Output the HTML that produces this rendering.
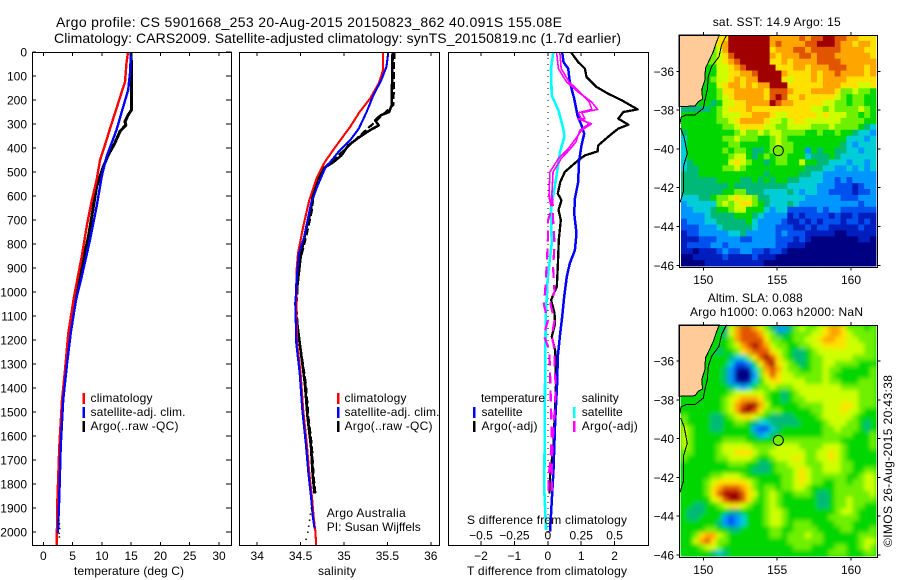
<!DOCTYPE html>
<html lang="en">
<head>
<meta charset="utf-8">
<title>Argo profile CS 5901668_253</title>
<style>
html,body{margin:0;padding:0;background:#fff;}
svg{display:block;}
text{font-family:"Liberation Sans",sans-serif;font-size:12px;fill:#000;}
.ttl{font-size:14px;}
.ln{fill:none;shape-rendering:crispEdges;stroke-linejoin:round;}
</style>
</head>
<body>
<svg id="fig" xmlns="http://www.w3.org/2000/svg" width="900" height="580" viewBox="0 0 900 580">
<defs>
<clipPath id="clipT"><rect x="32" y="52" width="200" height="493"/></clipPath>
<clipPath id="clipS"><rect x="239" y="52" width="200" height="493"/></clipPath>
<clipPath id="clipD"><rect x="448" y="52" width="200" height="493"/></clipPath>
<clipPath id="clipSla"><rect x="680" y="325" width="197" height="232"/></clipPath>
<filter id="slaBlur" x="-5%" y="-5%" width="110%" height="110%"><feGaussianBlur stdDeviation="2.2"/></filter>
</defs>
<rect x="0" y="0" width="900" height="580" fill="#fff"/>
<g id="panels"></g>
<g id="maps"></g>

<text class="ttl" x="56" y="27" textLength="506" lengthAdjust="spacing">Argo profile: CS 5901668_253 20-Aug-2015 20150823_862 40.091S 155.08E</text>
<text class="ttl" x="54" y="43" textLength="567" lengthAdjust="spacing">Climatology: CARS2009. Satellite-adjusted climatology: synTS_20150819.nc (1.7d earlier)</text>

<text x="74" y="575" textLength="110" lengthAdjust="spacing">temperature (deg C)</text>
<text x="318" y="575" textLength="38" lengthAdjust="spacing">salinity</text>
<text x="467" y="575" textLength="160" lengthAdjust="spacing">T difference from climatology</text>
<text x="467" y="524" textLength="160" lengthAdjust="spacing">S difference from climatology</text>

<rect x="82.5" y="393" width="2.5" height="11" fill="#f00"/>
<rect x="82.5" y="407" width="2.5" height="11" fill="#00f"/>
<rect x="82.5" y="421" width="2.5" height="11" fill="#000"/>
<text x="90.5" y="402" textLength="62">climatology</text>
<text x="90.5" y="416" textLength="95">satellite-adj. clim.</text>
<text x="90.5" y="430" textLength="88">Argo(..raw -QC)</text>

<rect x="337" y="393" width="2.5" height="11" fill="#f00"/>
<rect x="337" y="407" width="2.5" height="11" fill="#00f"/>
<rect x="337" y="421" width="2.5" height="11" fill="#000"/>
<text x="344.5" y="402" textLength="62">climatology</text>
<text x="344.5" y="416" textLength="95">satellite-adj. clim.</text>
<text x="344.5" y="430" textLength="88">Argo(..raw -QC)</text>

<text x="326.7" y="517" textLength="79">Argo Australia</text>
<text x="326.7" y="531" textLength="94">PI: Susan Wijffels</text>

<text x="481" y="402" textLength="64">temperature</text>
<text x="481.5" y="416" textLength="41">satellite</text>
<text x="481.5" y="430" textLength="56">Argo(-adj)</text>
<text x="581.7" y="402" textLength="37">salinity</text>
<text x="581.7" y="416" textLength="41">satellite</text>
<text x="581.7" y="430" textLength="56">Argo(-adj)</text>
<rect x="473" y="407" width="2.5" height="11" fill="#00f"/>
<rect x="473" y="421" width="2.5" height="11" fill="#000"/>
<rect x="573" y="407" width="2.5" height="11" fill="#0ff"/>
<rect x="573" y="421" width="2.5" height="11" fill="#f0f"/>

<text x="712.7" y="26" textLength="128">sat. SST: 14.9 Argo: 15</text>
<text x="707.7" y="302" textLength="95">Altim. SLA: 0.088</text>
<text x="690" y="316" textLength="173">Argo h1000: 0.063 h2000: NaN</text>
<text transform="translate(892,547) rotate(-90)" x="0" y="0" textLength="172">©IMOS 26-Aug-2015 20:43:38</text>
</svg>

<script>
// ---- Axis tick data ----
const depthTicks = [0,100,200,300,400,500,600,700,800,900,1000,1100,1200,1300,1400,1500,1600,1700,1800,1900,2000];
const tempTicks = [0,5,10,15,20,25,30];
const salTicks = [34,34.5,35,35.5,36];
const salTickLabels = ['34','34.5','35','35.5','36'];
const dtTicks = [-2,-1,0,1,2];
const dtTickLabels = ['\u22122','\u22121','0','1','2'];
const dsTicks = [-0.5,-0.25,0,0.25,0.5];
const dsTickLabels = ['\u22120.5','\u22120.25','0','0.25','0.5'];
const lonTicks = [150,155,160];
const latTicks = [-36,-38,-40,-42,-44,-46];

// ---- Temperature profiles ----
const climTempDepth = [0,46,125,158,235,318,366,450,533,617,714,853,1020,1172,1325,1450,1644,1867,2054];
const climTempVal = [14.46,14.2,13.95,13.5,12.5,11.4,10.8,9.7,9.1,8.3,7.5,6.55,5.24,4.27,3.7,3.2,2.73,2.4,2.28];
const satTempDepth = [0,87,158,227,325,436,519,644,783,936,1033,1172,1311,1450,1644,1853,2005];
const satTempVal = [14.97,14.8,14.5,13.66,12.5,10.8,9.97,9.1,7.97,6.55,5.58,4.67,4.0,3.4,2.97,2.73,2.5];
const argoTempDepth = [0,120,240,262,290,304,331,380,429,478,561,644,769,894,1020,1172,1325,1450,1644,1783];
const argoTempVal = [15.0,15.05,15.1,14.5,13.95,14.1,13.1,12.2,11.1,10.25,9.1,8.55,7.7,6.55,5.4,4.47,3.9,3.3,2.85,2.6];
const rawTempDotDepth = [1950,1965,1985,2005,2020];
const rawTempDotVal = [2.6,2.7,2.75,2.65,2.7];

// ---- Salinity profiles ----
const climSalDepth = [0,75,131,194,250,312,396,458,521,617,728,839,922,1061,1214,1339,1492,1631,1756,1853,1936,1999,2054];
const climSalVal = [35.45,35.45,35.40,35.30,35.18,35.07,34.90,34.78,34.69,34.60,34.53,34.47,34.45,34.45,34.46,34.50,34.53,34.57,34.60,34.63,34.65,34.67,34.68];
const satSalDepth = [0,61,117,179,250,319,368,410,486,562,632,771,839,964,1061,1214,1339,1492,1631,1756,1853,1936,1985];
const satSalVal = [35.51,35.49,35.43,35.34,35.26,35.17,35.07,34.95,34.78,34.69,34.62,34.54,34.48,34.45,34.44,34.45,34.49,34.52,34.56,34.59,34.62,34.64,34.66];
const argoSalDepth = [0,222,250,264,285,306,326,354,389,431,458,486,535,590,660,743,854,951,1047,1100,1242,1381,1519,1644,1769,1839];
const argoSalVal = [35.56,35.55,35.52,35.42,35.36,35.40,35.30,35.18,35.05,34.97,34.88,34.76,34.69,34.64,34.62,34.56,34.50,34.47,34.44,34.45,34.50,34.55,34.58,34.62,34.64,34.66];
const rawSalDepth = [0,220,400,480,560,660,760,860,960,1060,1160,1260,1381,1519,1644,1769,1839];
const rawSalVal = [35.58,35.57,35.03,34.78,34.66,34.63,34.57,34.50,34.47,34.45,34.47,34.51,34.56,34.59,34.63,34.65,34.67];
const rawSalDotDepth = [1900,1925,1950,1975,2000,2030];
const rawSalDotVal = [34.62,34.61,34.60,34.59,34.58,34.56];

// ---- Differences from climatology ----
const dtArgoDepth = [0,42,69,104,146,174,201,239,250,278,303,319,347,389,414,431,451,500,542,590,618,658,700,783,894,978,1033,1089,1131,1186,1242,1373,1639,1764,1840];
const dtArgoVal = [0.69,0.91,1.11,1.16,1.46,1.81,2.21,2.69,2.26,2.11,2.41,2.11,1.86,1.51,1.49,1.11,0.91,0.51,0.37,0.3,0.41,0.32,0.39,0.33,0.3,0.27,0.1,0.2,0.22,0.12,0.22,0.25,0.17,0.07,0.05];
const dtSatDepth = [0,42,69,125,194,264,306,340,389,458,542,611,672,756,826,881,936,1019,1103,1172,1269,1373,1547,1740,1921,1997];
const dtSatVal = [0.43,0.47,0.61,0.66,0.79,0.89,1.01,1.09,1.01,0.93,0.91,0.81,0.79,0.86,0.81,0.66,0.57,0.49,0.43,0.37,0.3,0.28,0.22,0.17,0.1,0.07];
const dsSatDepth = [0,69,181,243,319,354,417,514,597,653,799,936,1103,1408,1825,1992];
const dsSatVal = [0.041,0.024,0.029,0.079,0.116,0.124,0.091,0.066,0.041,0.024,0.029,0,-0.016,-0.021,-0.026,-0.013];
const dsArgoDepth = [0,69,125,167,208,239,253,278,278,299,326,375,403,444,500,597,653,700,800,900,1000,1050,1120,1180,1240,1300,1400,1600,1700,1770,1830];
const dsArgoVal = [0.066,0.079,0.141,0.228,0.328,0.373,0.254,0.278,0.224,0.328,0.254,0.191,0.153,0.079,0.016,0.009,0.029,0.002,0,-0.01,-0.02,-0.03,0,-0.03,0.01,0.015,0.02,0.03,0.02,0.005,0.005];
const dsRawDepth = [0,69,125,167,208,239,253,278,299,326,375,403,444,500,597,653,700,800,900,1000,1050,1120,1180,1240,1300,1400,1500,1600,1700,1830];
const dsRawVal = [0.09,0.1,0.16,0.24,0.31,0.33,0.23,0.25,0.31,0.24,0.21,0.17,0.1,0.04,0.03,0.04,0.04,0.05,0.04,0.05,0.02,0.05,0.03,0.05,0.05,0.06,0.05,0.04,0.03,0.03];
const dashBelowDepth = 650;

// ---- Maps: colour-class values per grid cell, north row first ----
const sstGrid = [
[7,7,7,7,7,7,9,9,12,12,12,12,12,12,12,10,10,10,10,10,11,10,11,11,12,12,11,11,10,10,9,9,9],
[7,7,7,7,7,7,9,10,12,12,12,12,12,12,12,10,11,10,10,10,10,11,11,12,12,12,11,10,10,9,10,10,9],
[7,7,7,7,7,7,8,10,12,12,12,12,12,12,12,9,10,10,10,11,11,10,11,11,11,11,11,10,10,10,10,9,9],
[7,7,7,7,7,7,8,9,11,12,12,12,12,12,12,10,9,10,10,10,11,11,10,11,11,11,10,10,10,10,10,10,9],
[7,7,7,7,7,7,8,9,10,11,12,12,12,12,12,9,9,10,9,10,10,10,10,11,11,11,11,10,10,10,10,10,10],
[6,6,6,6,6,6,8,8,9,10,11,12,12,12,12,12,9,9,9,10,10,9,10,10,10,11,11,11,10,10,10,9,10],
[6,6,6,6,6,6,8,8,9,9,10,10,11,12,12,12,12,10,9,9,9,9,10,9,10,10,11,10,10,10,10,9,10],
[6,6,6,6,6,7,8,8,9,10,9,10,10,12,12,12,12,9,8,9,9,9,10,9,10,10,10,10,9,9,9,9,9],
[6,6,6,6,6,6,8,9,10,10,9,10,9,10,10,12,12,12,9,9,9,9,9,9,10,10,10,9,9,9,8,8,9],
[6,6,6,6,6,6,7,9,9,10,10,10,10,10,9,11,11,11,10,9,9,9,10,10,10,10,9,7,7,8,7,7,6],
[6,6,6,6,6,6,7,8,9,10,10,10,10,10,9,11,12,11,9,9,10,9,9,9,9,9,8,7,6,7,7,6,6],
[6,6,6,6,6,5,6,8,8,9,9,10,10,10,10,12,11,10,10,9,9,9,9,9,8,8,7,7,6,7,7,6,6],
[5,5,5,5,5,6,7,8,9,9,9,10,9,9,9,9,9,9,9,9,9,9,8,8,7,8,7,7,7,7,8,7,6],
[6,6,6,6,6,6,7,8,8,8,9,9,10,10,10,9,8,8,9,9,9,9,9,8,9,8,8,8,7,7,6,7,6],
[6,6,6,6,6,6,7,7,8,9,10,10,10,10,9,8,8,7,8,9,9,8,8,8,8,8,8,7,7,7,7,6,6],
[6,6,6,6,6,6,6,7,7,8,9,9,9,9,8,8,7,7,8,8,8,8,7,7,7,8,7,7,7,7,6,5,4],
[5,6,6,6,6,6,6,6,6,7,8,7,7,8,7,8,8,7,7,7,7,6,6,7,6,6,7,6,6,5,4,4,3],
[4,6,6,6,6,6,6,7,7,8,7,7,7,6,6,7,8,7,6,6,6,6,6,6,6,6,6,6,4,4,4,3,4],
[4,6,6,6,6,6,6,6,7,7,6,6,6,6,6,7,8,7,7,6,6,6,6,6,6,6,6,5,4,3,4,4,4],
[4,6,6,6,6,6,6,7,6,7,7,6,5,5,6,7,7,7,7,6,6,3,6,5,6,6,5,5,4,4,3,4,4],
[4,6,6,6,6,6,6,6,7,8,8,6,5,6,7,6,7,7,6,6,6,4,5,5,5,6,5,4,4,4,4,4,4],
[4,5,6,6,6,6,6,6,8,9,8,7,6,6,5,6,7,7,6,6,8,6,6,5,5,4,4,4,3,4,4,3,4],
[4,5,5,6,6,6,6,7,7,8,7,6,6,6,6,6,6,6,6,6,6,5,5,5,4,4,3,3,4,3,4,3,4],
[5,5,5,6,6,6,6,6,6,6,6,6,6,6,5,6,6,6,6,6,5,5,4,4,3,3,3,3,3,3,3,3,3],
[5,5,5,5,5,5,6,6,6,6,5,5,6,5,6,5,6,6,5,5,4,4,4,4,3,3,2,3,2,3,3,3,3],
[5,5,5,5,5,5,5,5,6,5,5,5,5,5,5,5,5,5,4,4,4,4,4,3,3,3,2,2,2,1,2,3,3],
[5,5,5,5,5,5,5,6,6,7,7,5,5,5,4,4,4,4,5,4,3,4,4,3,3,2,2,2,2,1,2,2,3],
[4,4,4,5,5,6,7,7,8,9,8,8,7,5,5,4,4,4,4,4,4,3,3,3,3,3,3,2,2,2,3,3,3],
[3,4,4,4,4,4,7,8,7,8,9,9,7,6,5,4,4,4,5,4,3,3,3,3,3,3,3,3,3,3,2,3,3],
[3,3,4,4,4,5,6,6,7,8,8,6,6,6,4,3,4,4,2,2,2,2,2,3,2,3,3,2,2,2,2,2,2],
[3,3,3,3,4,5,5,5,5,6,6,6,5,4,3,3,3,3,1,2,1,2,2,2,2,1,2,1,1,2,1,1,1],
[2,3,3,3,4,4,5,5,5,5,5,6,4,3,3,3,3,2,1,1,2,1,2,1,2,2,2,1,2,2,1,2,1],
[2,2,2,3,3,3,4,5,5,5,5,5,4,3,3,3,2,2,2,1,1,2,1,2,2,1,1,1,1,1,2,1,1],
[1,2,2,3,3,3,3,3,4,4,5,3,3,3,3,3,2,3,2,2,2,1,1,1,1,1,0,0,1,1,1,1,1],
[1,1,1,2,2,2,3,3,3,3,2,2,3,3,3,3,2,2,2,1,2,1,0,0,0,0,0,0,0,0,1,1,0],
[1,2,2,2,2,3,3,2,3,3,3,3,3,3,3,3,2,2,1,1,1,0,0,0,0,0,0,0,0,0,0,0,0],
[1,1,0,1,1,1,2,3,2,2,3,3,2,2,1,2,2,1,0,0,0,0,0,0,0,0,0,0,0,0,0,0,0],
[0,0,1,1,1,1,1,2,1,1,1,1,2,1,1,1,0,0,0,0,0,0,0,0,0,0,0,0,0,0,0,0,0],
[0,0,0,0,1,1,1,1,1,1,1,1,1,1,0,0,0,0,0,0,0,0,0,0,0,0,0,0,0,0,0,0,0]
];
const slaGrid = [
[6,6,6,6,6,6,6,5,8,10,11,11,10,9,7,5,3,3,5,7,8,7,7,8,9,10,10,9,7,7,7,6,7],
[6,6,6,6,6,6,6,5,8,10,11,11,11,10,8,7,5,5,6,7,7,7,8,8,9,10,10,9,8,7,7,7,7],
[6,6,6,6,6,6,6,6,7,10,11,11,11,11,9,7,7,6,6,7,7,8,8,9,10,10,9,9,8,8,7,7,7],
[6,6,6,6,6,6,6,6,7,8,10,11,12,11,10,8,7,7,6,6,7,7,8,8,9,9,9,9,8,8,8,7,7],
[6,6,6,6,6,6,5,6,6,7,9,10,11,11,11,9,8,7,6,5,5,6,7,8,8,8,8,8,8,8,8,7,7],
[6,6,6,6,6,6,6,6,5,4,4,7,9,11,12,11,9,7,6,5,5,6,7,7,8,8,8,8,8,7,7,7,7],
[6,6,6,6,6,6,6,6,4,2,2,3,6,9,11,12,9,8,7,6,5,6,7,7,8,8,7,7,7,7,6,6,6],
[6,6,6,6,6,6,6,5,3,1,0,1,4,7,10,11,10,8,7,7,6,6,7,7,8,7,7,6,6,6,6,6,7],
[6,6,6,6,6,6,6,5,3,0,0,0,3,7,9,11,9,8,8,7,7,7,7,7,8,7,6,6,6,6,6,6,7],
[6,6,6,6,6,6,6,5,3,1,0,1,4,6,8,9,9,8,8,8,8,7,7,7,8,7,7,6,6,6,7,7,7],
[6,6,6,6,6,6,6,6,5,4,3,4,6,7,7,8,7,7,7,8,8,8,8,8,8,8,8,7,7,7,7,7,7],
[6,6,6,6,6,6,6,6,7,8,8,8,8,8,7,6,6,5,6,7,8,8,8,8,8,8,8,8,8,8,7,7,7],
[6,6,6,6,6,6,6,7,8,9,10,10,10,9,7,6,6,5,6,7,7,8,8,8,8,8,8,8,8,8,7,7,7],
[6,6,6,6,6,6,6,7,8,10,11,12,12,10,8,6,6,6,6,6,7,7,7,7,8,8,8,9,9,8,7,7,7],
[6,6,6,6,6,6,6,7,8,10,12,12,11,9,7,7,7,6,6,6,6,6,7,7,8,8,8,9,8,8,7,6,6],
[7,6,6,6,6,5,5,6,7,8,9,9,8,7,6,5,5,5,5,6,6,6,6,7,8,8,8,8,8,7,6,6,6],
[7,6,6,6,6,5,5,6,6,7,7,6,5,4,4,5,5,5,5,5,6,6,6,6,7,8,8,8,7,7,6,5,6],
[8,7,6,6,6,5,5,6,6,6,6,6,3,2,2,4,5,6,6,6,6,6,6,6,7,7,8,7,7,7,6,5,6],
[8,7,6,6,6,6,6,6,6,6,6,6,5,3,4,5,6,6,6,6,6,6,6,6,7,7,7,7,7,6,6,6,7],
[8,7,6,6,6,6,6,7,7,7,7,6,6,6,6,6,7,7,7,7,7,7,7,7,7,7,7,6,6,6,6,6,7],
[8,7,6,6,6,6,7,8,8,8,8,8,7,7,7,7,8,8,8,8,7,7,7,7,8,8,8,7,6,6,6,6,7],
[7,7,6,6,6,6,7,8,8,9,9,9,8,7,7,8,8,8,8,8,8,7,7,8,8,9,8,7,6,6,6,6,6],
[7,6,6,6,6,6,7,7,8,8,8,8,7,6,6,7,8,8,8,9,8,7,7,8,8,9,8,7,6,6,6,6,6],
[6,6,6,6,6,6,6,6,7,7,7,6,6,5,5,6,7,7,8,8,8,7,7,7,8,8,8,7,7,6,6,6,6],
[6,6,6,6,6,6,6,6,6,6,6,6,5,5,5,6,7,7,7,8,9,8,7,7,8,8,8,7,7,6,6,7,7],
[6,6,6,6,6,7,7,8,8,8,7,6,6,6,6,6,6,7,7,8,9,8,7,7,7,7,7,7,6,6,7,8,8],
[6,6,6,6,7,8,9,9,9,9,9,8,7,6,6,6,6,7,7,8,9,8,7,7,6,6,7,7,6,7,7,8,8],
[6,6,6,6,7,9,10,11,11,11,10,9,7,6,7,7,6,7,7,8,8,7,6,6,6,6,7,7,7,7,7,8,8],
[6,6,6,6,7,9,11,12,12,12,11,9,8,6,7,8,7,6,6,7,7,7,6,5,5,6,7,7,7,7,7,7,8],
[6,6,6,6,6,8,9,11,12,12,11,9,7,6,7,8,7,6,6,6,6,6,6,5,5,6,7,7,8,7,7,7,7],
[6,6,5,5,6,6,7,8,9,9,8,7,6,6,7,8,7,6,6,6,6,6,6,5,5,6,7,7,8,7,7,6,6],
[6,5,5,5,6,6,6,6,5,5,6,6,6,6,7,8,8,7,6,6,6,6,6,6,6,6,7,8,8,7,6,6,6],
[6,5,5,6,6,6,6,3,2,3,4,6,6,6,7,8,8,7,6,6,6,6,6,6,6,7,7,7,7,7,6,6,6],
[6,6,6,6,6,6,5,3,2,3,4,6,6,6,7,8,8,7,6,7,7,7,6,6,6,6,7,7,7,6,6,6,6],
[6,6,6,6,7,7,6,6,5,5,6,6,6,6,6,7,7,6,6,7,7,7,7,6,6,6,6,7,7,6,6,6,7],
[6,6,7,9,10,10,8,7,6,6,6,6,6,6,6,7,7,6,7,7,7,8,7,7,6,6,6,6,6,6,7,7,7],
[6,6,8,10,11,9,7,7,6,6,6,6,6,6,6,6,6,6,7,7,7,7,7,7,6,6,6,6,6,6,7,8,8],
[6,6,6,7,8,8,7,6,6,6,6,6,6,6,6,6,6,6,6,7,7,7,6,6,6,6,7,7,6,6,7,8,7],
[6,6,6,6,6,5,4,5,6,6,6,6,6,6,6,6,6,6,6,6,6,6,6,6,6,7,7,7,6,6,6,7,7]
];
const landLon = [148.37,151.08,150.86,150.68,150.41,150.14,150.11,149.89,149.95,149.66,149.44,148.37];
const landLat = [-34.13,-34.13,-34.56,-34.99,-35.42,-35.85,-36.45,-36.96,-37.44,-37.56,-37.79,-37.82];
const shelfNorthLon = [151.58,151.24,151.06,150.56,150.34,150.27,150.11,150.0,149.44,148.83,148.49,148.42];
const shelfNorthLat = [-34.13,-34.64,-35.24,-35.76,-36.27,-36.96,-37.48,-37.91,-38.25,-38.25,-38.37,-38.71];
const shelfSouthLon = [148.46,148.69,148.92,148.65,148.65,148.42];
const shelfSouthLat = [-38.94,-39.37,-40.23,-40.91,-42.2,-42.77];
const argoLon = 155.08;
const argoLat = -40.09;
const argoSstClass = 7;
const argoSlaClass = 7;

// ---- Axis functions ----
const panelTop = 52, panelBottom = 545;
function yDepth(d){ return panelTop + 0.24*d; }
function xTemp(v){ return 43.3 + 5.857*v; }
function xSal(v){ return 344 + 86.8*(v-35); }
function xDT(v){ return 547.8 + 33.4*v; }
function xDS(v){ return 547.8 + 133.6*v; }
function xLon(lon){ return 703.3 + 14.77*(lon-150); }
function yLat(lat, y36){ return y36 + 19.4*(-36-lat); }
function classColor(c){
  const stops = ['#000082','#001ebe','#0050f0','#0096ff','#00cdd7','#00b978','#00d700','#6ef000','#cdff00','#ffe100','#ffa500','#e15500','#a00000'];
  return stops[Math.max(0, Math.min(12, Math.round(c)))];
}

const NS = 'http://www.w3.org/2000/svg';
function mk(tag, attrs, parent){
  const el = document.createElementNS(NS, tag);
  for (const k in attrs) el.setAttribute(k, attrs[k]);
  parent.appendChild(el);
  return el;
}
function pts(xs, ys){ return xs.map(function(x,i){ return x.toFixed(1)+','+ys[i].toFixed(1); }).join(' '); }

function drawSeries(parent, depth, vals, xFn, color, width, name, dash){
  const el = mk('polyline', {class:'ln', points: pts(vals.map(xFn), depth.map(yDepth)), stroke:color, 'stroke-width':width}, parent);
  if (dash) el.setAttribute('stroke-dasharray', dash);
  
  
  return el;
}
function drawDashSplit(parent, depth, vals, xFn, color, width, name){
  const upD = [], upV = [], loD = [], loV = [];
  depth.forEach(function(d,i){
    if (d <= dashBelowDepth){ upD.push(d); upV.push(vals[i]); }
    if (d >= dashBelowDepth - 60){ loD.push(d); loV.push(vals[i]); }
  });
  drawSeries(parent, upD, upV, xFn, color, width, name+'-upper');
  drawSeries(parent, loD, loV, xFn, color, width+0.6, name+'-lower', '11 7');
}
function drawDots(parent, depth, vals, xFn, name){
  depth.forEach(function(d,i){
    const el = mk('rect', {x:(xFn(vals[i])-0.5).toFixed(1), y:(yDepth(d)-0.5).toFixed(1), width:1.6, height:1.4, fill:'#000'}, parent);
    
    
  });
}
function tickLine(parent, x1, y1, x2, y2, name){
  const el = mk('line', {x1:x1, y1:y1, x2:x2, y2:y2, stroke:'#000', 'stroke-width':1, 'shape-rendering':'crispEdges'}, parent);
  
  
}
function tickText(parent, x, y, str, anchor, name){
  const el = mk('text', {x:x, y:y, 'text-anchor':anchor}, parent);
  el.textContent = str;
  
  
}
function drawFrame(parent, x, y, w, h, name){
  const el = mk('rect', {x:x, y:y, width:w, height:h, fill:'none', stroke:'#000', 'stroke-width':1, 'shape-rendering':'crispEdges'}, parent);
  
  
}

const panels = document.getElementById('panels');
const maps = document.getElementById('maps');

// ---- Temperature panel ----
const gT = mk('g', {'clip-path':'url(#clipT)'}, panels);


drawSeries(gT, argoTempDepth, argoTempVal, xTemp, '#000', 3, 'temperature-argo-line');
drawSeries(gT, climTempDepth, climTempVal, xTemp, '#f00', 2.4, 'temperature-climatology-line');
drawSeries(gT, satTempDepth, satTempVal, xTemp, '#00f', 2.4, 'temperature-satellite-line');
drawDots(gT, rawTempDotDepth, rawTempDotVal, xTemp, 'temperature-raw-dot');
drawFrame(panels, 32.5, 52.5, 199, 493, 'temperature-panel-frame');
depthTicks.forEach(function(d){
  tickLine(panels, 32.5, yDepth(d), 36, yDepth(d), 'depth-tick-left');
  tickLine(panels, 226, yDepth(d), 231.5, yDepth(d), 'depth-tick-right');
  tickText(panels, 27, yDepth(d)+4.5, String(d), 'end', 'depth-tick-label');
});
tempTicks.forEach(function(v){
  tickLine(panels, xTemp(v), 52.5, xTemp(v), 56, 'temperature-tick-top');
  tickLine(panels, xTemp(v), 542, xTemp(v), 545.5, 'temperature-tick-bottom');
  tickText(panels, xTemp(v), 560, String(v), 'middle', 'temperature-tick-label');
});

// ---- Salinity panel ----
const gS = mk('g', {'clip-path':'url(#clipS)'}, panels);


drawSeries(gS, rawSalDepth, rawSalVal, xSal, '#000', 2.2, 'salinity-argo-raw-line', '7 3');
drawSeries(gS, argoSalDepth, argoSalVal, xSal, '#000', 2.6, 'salinity-argo-line');
drawSeries(gS, climSalDepth, climSalVal, xSal, '#f00', 2.1, 'salinity-climatology-line');
drawSeries(gS, satSalDepth, satSalVal, xSal, '#00f', 2.1, 'salinity-satellite-line');
drawDots(gS, rawSalDotDepth, rawSalDotVal, xSal, 'salinity-raw-dot');
drawFrame(panels, 239.5, 52.5, 200, 493, 'salinity-panel-frame');
salTicks.forEach(function(v,i){
  tickLine(panels, xSal(v), 52.5, xSal(v), 56, 'salinity-tick-top');
  tickLine(panels, xSal(v), 542, xSal(v), 545.5, 'salinity-tick-bottom');
  tickText(panels, xSal(v), 560, salTickLabels[i], 'middle', 'salinity-tick-label');
});

// ---- Difference panel ----
const gD = mk('g', {'clip-path':'url(#clipD)'}, panels);


const zeroLine = mk('line', {x1:xDT(0), y1:panelTop, x2:xDT(0), y2:panelBottom, stroke:'#000', 'stroke-width':1, 'stroke-dasharray':'1 5', 'shape-rendering':'crispEdges'}, gD);


drawSeries(gD, dtArgoDepth, dtArgoVal, xDT, '#000', 2.3, 'temperature-diff-argo-line');
drawSeries(gD, dtSatDepth, dtSatVal, xDT, '#00f', 2.5, 'temperature-diff-satellite-line');
drawSeries(gD, dsSatDepth, dsSatVal, xDS, '#0ff', 2.6, 'salinity-diff-satellite-line');
drawDashSplit(gD, dsArgoDepth, dsArgoVal, xDS, '#f0f', 1.6, 'salinity-diff-argo-line');
drawDashSplit(gD, dsRawDepth, dsRawVal, xDS, '#f0f', 1.6, 'salinity-diff-argo-raw-line');
drawFrame(panels, 448.5, 52.5, 200, 493, 'difference-panel-frame');
dtTicks.forEach(function(v,i){
  tickLine(panels, xDT(v), 52.5, xDT(v), 56, 'difference-tick-top');
  tickLine(panels, xDT(v), 541, xDT(v), 545.5, 'difference-tick-bottom');
  tickText(panels, xDT(v), 560, dtTickLabels[i], 'middle', 't-difference-tick-label');
});
dsTicks.forEach(function(v,i){
  tickText(panels, xDS(v), 539.5, dsTickLabels[i], 'middle', 's-difference-tick-label');
});

// ---- Map panels ----
function drawMap(grid, top, bottom, y36, smooth, markerClass, prefix){
  const x0 = 681, x1 = 876, frameX = 679.5, frameW = 198;
  const g = mk('g', {}, maps);
  
  
  let cells = g;
  if (smooth){
    const clip = mk('g', {'clip-path':'url(#clipSla)'}, g);
    
    
    const base = mk('rect', {x:x0, y:top, width:x1-x0, height:bottom-top-1, fill:classColor(6)}, clip);
    
    
    cells = mk('g', {filter:'url(#slaBlur)'}, clip);
    
    
  }
  const rows = grid.length;
  const cw = (x1-x0)/grid[0].length;
  const ch = (bottom-top-1)/rows;
  grid.forEach(function(row, j){
    row.forEach(function(val, i){
      const c = mk('rect', {x:(x0+i*cw).toFixed(2), y:(top+j*ch).toFixed(2), width:(cw+0.4).toFixed(2), height:(ch+0.4).toFixed(2), fill:classColor(val)}, cells);
      
      
    });
  });
  const yf = function(lat){ return yLat(lat, y36); };
  const land = mk('polygon', {points: pts(landLon.map(xLon), landLat.map(function(l){ return Math.max(yf(l), top); })), fill:'#ffcc99', stroke:'#000', 'stroke-width':1, 'shape-rendering':'crispEdges'}, g);
  
  
  const sN = mk('polyline', {class:'ln', points: pts(shelfNorthLon.map(xLon), shelfNorthLat.map(yf)), stroke:'#000', 'stroke-width':1}, g);
  
  
  const sS = mk('polyline', {class:'ln', points: pts(shelfSouthLon.map(xLon), shelfSouthLat.map(yf)), stroke:'#000', 'stroke-width':1}, g);
  
  
  drawFrame(g, frameX, top+0.5, frameW, bottom-top, prefix+'-map-frame');
  lonTicks.forEach(function(lon){
    tickLine(g, xLon(lon), top-3, xLon(lon), top, prefix+'-lon-tick-top');
    tickLine(g, xLon(lon), bottom, xLon(lon), bottom+3.5, prefix+'-lon-tick-bottom');
    tickText(g, xLon(lon), bottom+17, String(lon), 'middle', prefix+'-lon-tick-label');
  });
  latTicks.forEach(function(lat){
    tickLine(g, frameX-3, yf(lat), frameX, yf(lat), prefix+'-lat-tick-left');
    tickLine(g, frameX+frameW, yf(lat), frameX+frameW+3, yf(lat), prefix+'-lat-tick-right');
    tickText(g, 674, yf(lat)+4.5, '\u2212'+Math.abs(lat), 'end', prefix+'-lat-tick-label');
  });
  const m = mk('circle', {cx:xLon(argoLon), cy:yf(argoLat), r:5, fill:classColor(markerClass), stroke:'#000', 'stroke-width':1}, g);
  
  
}
drawMap(sstGrid, 35, 267, 71.3, false, argoSstClass, 'sst');
drawMap(slaGrid, 325, 557, 361, true, argoSlaClass, 'sla');
</script>
</body>
</html>
